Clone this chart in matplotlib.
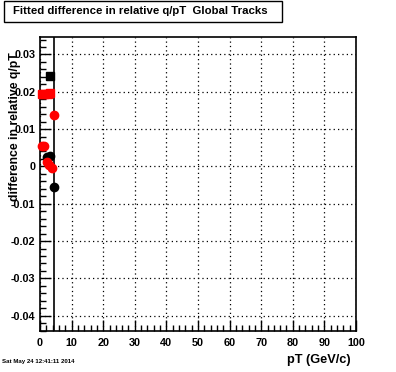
import matplotlib
matplotlib.use('Agg')
import matplotlib.pyplot as plt
from matplotlib.patches import Rectangle
from matplotlib.ticker import MultipleLocator, FuncFormatter

plt.rcParams['font.family'] = ['Liberation Sans', 'DejaVu Sans']
plt.rcParams['font.weight'] = 'bold'

# black: global tracks, squares and circles
blk_sq_pt = [3.3]
blk_sq_val = [0.0243]
blk_ci_pt = [2.1, 3.3, 4.3]
blk_ci_val = [0.0026, 0.0029, -0.0055]
blk_ci_err = [0.0003, 0.0003, 0.1]

# red
red_sq_pt = [0.5, 1.4, 2.4, 3.3]
red_sq_val = [0.0193, 0.0194, 0.0195, 0.0197]
red_ci_pt = [0.6, 1.4, 2.3, 3.0, 3.7, 4.3]
red_ci_val = [0.0055, 0.0055, 0.0012, 0.0003, -0.0003, 0.0139]

title = 'Fitted difference in relative q/pT  Global Tracks'
xlabel = 'pT (GeV/c)'
ylabel = 'difference in relative q/pT'
datestr = 'Sat May 24 12:41:11 2014'

W, H = 396, 372
fig = plt.figure(figsize=(W/100, H/100), dpi=100)
ax = fig.add_axes([40/W, 1-331/H, 316/W, (331-37.3)/H])

ax.set_xlim(0, 100)
ax.set_ylim(-0.0441, 0.0346)

# error bars clipped to the frame, markers not
ax.errorbar(blk_ci_pt, blk_ci_val, yerr=blk_ci_err, fmt='none', ecolor='k',
            elinewidth=1.2, capsize=0, zorder=3)
ax.plot(blk_ci_pt, blk_ci_val, 'o', color='k', ms=6, clip_on=False, zorder=3)
ax.plot(blk_sq_pt, blk_sq_val, 's', color='k', ms=6, clip_on=False, zorder=3)
ax.plot(red_sq_pt, red_sq_val, 's', color='#ff0000', ms=6, clip_on=False, zorder=4)
ax.plot(red_ci_pt, red_ci_val, 'o', color='#ff0000', ms=6, clip_on=False, zorder=4)

ax.xaxis.set_major_locator(MultipleLocator(10))
ax.xaxis.set_minor_locator(MultipleLocator(2))
ax.yaxis.set_major_locator(MultipleLocator(0.01))
ax.yaxis.set_minor_locator(MultipleLocator(0.002))
ax.yaxis.set_major_formatter(FuncFormatter(lambda v, p: '0' if abs(v) < 1e-9 else ('%.2f' % v)))
ax.tick_params(which='both', direction='in', top=False, right=False, labelsize=7.8, width=1)
ax.tick_params(axis='x', which='major', pad=5)
ax.tick_params(which='major', length=8)
ax.tick_params(which='minor', length=4.5)
ax.grid(True, which='major', color='k', linestyle=(0, (1, 2.5)), linewidth=0.9)
for s in ax.spines.values():
    s.set_linewidth(1.2)

fig.text(351/W, 1-360/H, xlabel, ha='right', va='center', fontsize=9.2, fontweight='bold')
fig.text(15/W, 1-52/H, ylabel, rotation=90, ha='center', va='top', fontsize=8.8, fontweight='bold')
fig.text(2/W, 1-362/H, datestr, ha='left', va='center', fontsize=4.4, fontweight='bold')

fig.patches.append(Rectangle((3.5/W, 1-22/H), (282-3.5)/W, 21/H, transform=fig.transFigure,
                             fill=False, edgecolor='k', linewidth=1))
fig.text(13/W, 1-11.5/H, title, ha='left', va='center', fontsize=8.2, fontweight='bold')

fig.savefig('out.png', dpi=100)
